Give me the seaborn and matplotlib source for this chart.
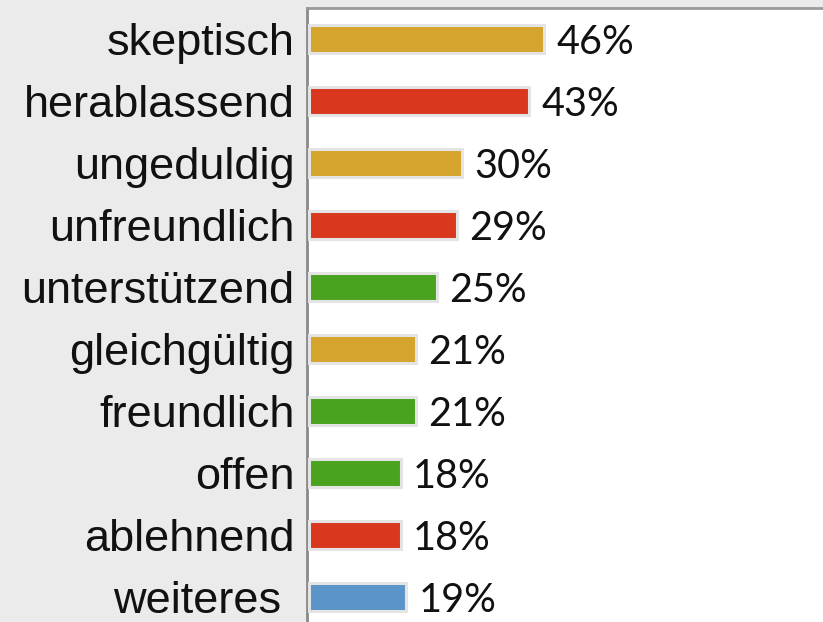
import matplotlib
matplotlib.use('Agg')
import matplotlib.pyplot as plt
import matplotlib.transforms as mtrans
import seaborn as sns
import pandas as pd

# Daten
eigenschaften = ['skeptisch', 'herablassend', 'ungeduldig', 'unfreundlich', 'unterstützend',
                 'gleichgültig', 'freundlich', 'offen', 'ablehnend', 'weiteres']
werte = [46, 43, 30, 29, 25, 21, 21, 18, 18, 19]
farben = ['#D4A42D', '#D9381F', '#D4A42D', '#D9381F', '#4AA31F',
          '#D4A42D', '#4AA31F', '#4AA31F', '#D9381F', '#5B94C8']

df = pd.DataFrame({'Eigenschaft': eigenschaften, 'Wert': werte})

sns.set_style('white')
fig = plt.figure(figsize=(8.23, 6.22), dpi=100, facecolor='#EBEBEB')
ax = fig.add_axes([0.373, 0.0, 0.627, 0.987])
ax.set_facecolor('white')

sns.barplot(data=df, x='Wert', y='Eigenschaft', hue='Eigenschaft', palette=farben,
            legend=False, width=0.46, edgecolor='#E4E4E4', linewidth=2.2,
            saturation=1, ax=ax, zorder=3)

# Prozentwerte
for i, v in enumerate(werte):
    ax.text(v + 2.4, i + 0.06, f'{v}%', va='center', ha='left', fontsize=28.5,
            family='Lato', color='#111111')

ax.set_xlim(-0.3, 100.3)
ax.set_ylim(9.4, -0.5)
ax.set_xlabel('')
ax.set_ylabel('')
ax.set_xticks([])
ax.tick_params(axis='y', length=0, pad=9, labelsize=32.5)
for lbl in ax.get_yticklabels():
    lbl.set_family('Liberation Sans')
    lbl.set_color('#111111')
    if lbl.get_text() == 'weiteres':
        # im Original etwas nach links versetzt
        lbl.set_transform(lbl.get_transform() +
                          mtrans.ScaledTranslation(-0.13, 0, fig.dpi_scale_trans))

for s in ['right', 'bottom']:
    ax.spines[s].set_visible(False)
ax.spines['top'].set_color('#9A9A9A')
ax.spines['top'].set_linewidth(2)
ax.spines['left'].set_color('#8A8A8A')
ax.spines['left'].set_linewidth(2)
ax.spines['left'].set_zorder(1)

fig.savefig('out.png', dpi=100, facecolor=fig.get_facecolor())
